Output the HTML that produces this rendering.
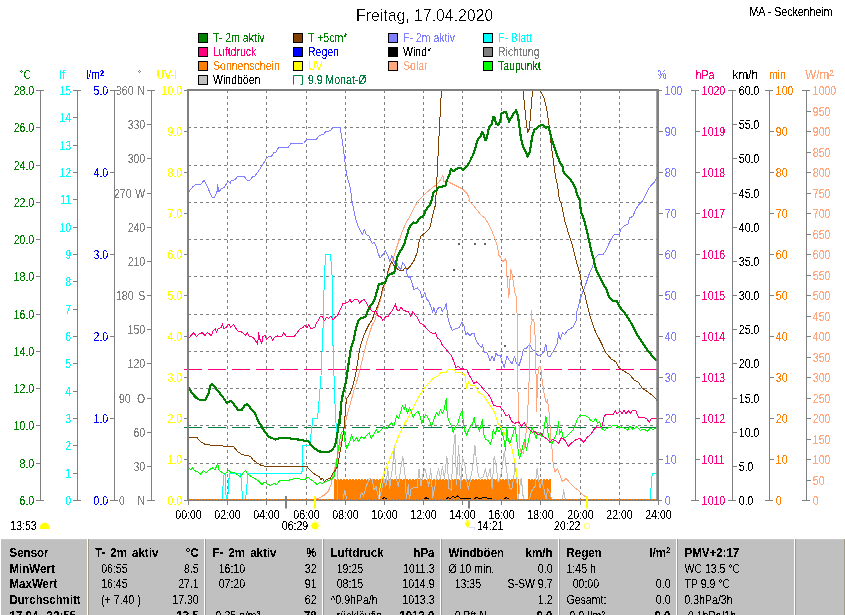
<!DOCTYPE html>
<html><head><meta charset="utf-8"><title>Wetter</title>
<style>html,body{margin:0;padding:0;background:#fff;overflow:hidden}svg{display:block;font-family:"Liberation Sans",sans-serif}</style></head>
<body>
<svg width="845" height="615" viewBox="0 0 845 615" font-family="'Liberation Sans', sans-serif" font-size="12.4" shape-rendering="auto">
<rect width="845" height="615" fill="#fff"/>
<filter id="cr" x="-5%" y="-20%" width="110%" height="140%" color-interpolation-filters="sRGB"><feComponentTransfer><feFuncA type="discrete" tableValues="0 0 0 0 0 0 0 0 0 1 1 1 1 1 1 1 1 1 1 1"/></feComponentTransfer></filter>
<filter id="cr2" x="-5%" y="-20%" width="110%" height="140%" color-interpolation-filters="sRGB"><feComponentTransfer><feFuncA type="discrete" tableValues="0 0 0 0 0 0 0 0 0 0 0 0 0 1 1 1 1 1 1 1"/></feComponentTransfer></filter>
<clipPath id="pc"><rect x="188.5" y="90.5" width="471.0" height="411.0"/></clipPath>
<line x1="227.50" y1="90.00" x2="227.50" y2="500.00" stroke="#808080" stroke-width="1" stroke-dasharray="3 3"/>
<line x1="266.50" y1="90.00" x2="266.50" y2="500.00" stroke="#808080" stroke-width="1" stroke-dasharray="3 3"/>
<line x1="306.50" y1="90.00" x2="306.50" y2="500.00" stroke="#808080" stroke-width="1" stroke-dasharray="3 3"/>
<line x1="345.50" y1="90.00" x2="345.50" y2="500.00" stroke="#808080" stroke-width="1" stroke-dasharray="3 3"/>
<line x1="384.50" y1="90.00" x2="384.50" y2="500.00" stroke="#808080" stroke-width="1" stroke-dasharray="3 3"/>
<line x1="423.50" y1="90.00" x2="423.50" y2="500.00" stroke="#808080" stroke-width="1" stroke-dasharray="3 3"/>
<line x1="462.50" y1="90.00" x2="462.50" y2="500.00" stroke="#808080" stroke-width="1" stroke-dasharray="3 3"/>
<line x1="501.50" y1="90.00" x2="501.50" y2="500.00" stroke="#808080" stroke-width="1" stroke-dasharray="3 3"/>
<line x1="540.50" y1="90.00" x2="540.50" y2="500.00" stroke="#808080" stroke-width="1" stroke-dasharray="3 3"/>
<line x1="580.50" y1="90.00" x2="580.50" y2="500.00" stroke="#808080" stroke-width="1" stroke-dasharray="3 3"/>
<line x1="619.50" y1="90.00" x2="619.50" y2="500.00" stroke="#808080" stroke-width="1" stroke-dasharray="3 3"/>
<line x1="188.00" y1="127.50" x2="658.00" y2="127.50" stroke="#808080" stroke-width="1" stroke-dasharray="3 3"/>
<line x1="188.00" y1="165.50" x2="658.00" y2="165.50" stroke="#808080" stroke-width="1" stroke-dasharray="3 3"/>
<line x1="188.00" y1="202.50" x2="658.00" y2="202.50" stroke="#808080" stroke-width="1" stroke-dasharray="3 3"/>
<line x1="188.00" y1="239.50" x2="658.00" y2="239.50" stroke="#808080" stroke-width="1" stroke-dasharray="3 3"/>
<line x1="188.00" y1="276.50" x2="658.00" y2="276.50" stroke="#808080" stroke-width="1" stroke-dasharray="3 3"/>
<line x1="188.00" y1="314.50" x2="658.00" y2="314.50" stroke="#808080" stroke-width="1" stroke-dasharray="3 3"/>
<line x1="188.00" y1="351.50" x2="658.00" y2="351.50" stroke="#808080" stroke-width="1" stroke-dasharray="3 3"/>
<line x1="188.00" y1="388.50" x2="658.00" y2="388.50" stroke="#808080" stroke-width="1" stroke-dasharray="3 3"/>
<line x1="188.00" y1="425.50" x2="658.00" y2="425.50" stroke="#808080" stroke-width="1" stroke-dasharray="3 3"/>
<line x1="188.00" y1="463.50" x2="658.00" y2="463.50" stroke="#808080" stroke-width="1" stroke-dasharray="3 3"/>
<g clip-path="url(#pc)" fill="none" stroke-linejoin="round" shape-rendering="crispEdges">
<rect x="334.0" y="480.0" width="184.5" height="20.5" fill="#ff8000"/>
<line x1="334.0" y1="479.5" x2="518.5" y2="479.5" stroke="#ff8000" stroke-width="1" stroke-dasharray="2 1"/>
<rect x="528.3" y="480.0" width="22.9" height="20.5" fill="#ff8000"/>
<line x1="528.3" y1="479.5" x2="551.2" y2="479.5" stroke="#ff8000" stroke-width="1" stroke-dasharray="2 1"/>
<line x1="188" y1="499.5" x2="659" y2="499.5" stroke="#ff8000" stroke-width="1" stroke-dasharray="2 1"/>
<path d="M184.0,369.5 h18 M208.0,369.5 h18 M232.0,369.5 h18 M256.0,369.5 h18 M280.0,369.5 h18 M304.0,369.5 h18 M328.0,369.5 h18 M352.0,369.5 h18 M376.0,369.5 h18 M400.0,369.5 h18 M424.0,369.5 h18 M448.0,369.5 h18 M472.0,369.5 h18 M496.0,369.5 h18 M520.0,369.5 h18 M544.0,369.5 h18 M568.0,369.5 h18 M592.0,369.5 h18 M616.0,369.5 h18 M640.0,369.5 h18" stroke="#ff0080" stroke-width="1" fill="none"/>
<path d="M184.0,427.5 h18 M208.0,427.5 h18 M232.0,427.5 h18 M256.0,427.5 h18 M280.0,427.5 h18 M304.0,427.5 h18 M328.0,427.5 h18 M352.0,427.5 h18 M376.0,427.5 h18 M400.0,427.5 h18 M424.0,427.5 h18 M448.0,427.5 h18 M472.0,427.5 h18 M496.0,427.5 h18 M520.0,427.5 h18 M544.0,427.5 h18 M568.0,427.5 h18 M592.0,427.5 h18 M616.0,427.5 h18 M640.0,427.5 h18" stroke="#008040" stroke-width="1" fill="none"/>
<polyline points="341.0,500.0 342.9,500.0 344.9,490.2 346.8,500.0 359.5,500.0 361.5,492.2 363.4,496.1 366.3,486.3 369.3,478.5 372.2,479.5 374.1,490.2 376.1,486.3 379.0,500.0 382.0,488.3 383.9,478.5 385.9,486.3 387.8,468.8 389.8,488.3 391.1,476.6 392.7,466.8 394.2,445.4 396.2,478.5 398.5,486.3 400.5,470.7 402.8,456.1 405.4,478.5 406.3,500.0 408.3,484.4 409.3,500.0 411.2,488.3 417.1,487.3 419.0,468.8 421.0,486.3 422.9,474.6 424.9,468.8 426.8,476.6 428.8,486.3 430.7,468.8 432.7,497.1 434.6,488.3 436.6,476.6 438.5,468.8 440.5,478.5 442.4,466.8 444.4,478.5 446.9,456.1 448.9,488.3 451.2,490.2 453.2,451.2 455.1,434.6 456.5,484.4 458.6,445.4 460.6,488.3 462.5,457.1 464.9,464.9 466.8,480.5 468.4,489.3 470.3,480.5 472.7,466.8 475.0,445.4 476.6,462.9 478.5,476.6 480.5,478.5 483.4,476.6 485.4,468.8 487.3,478.5 490.2,468.8 492.2,488.3 494.1,456.1 496.1,464.9 498.0,482.4 500.0,478.5 500.0,478.5 502.0,468.8 504.3,451.2 505.9,464.9 507.8,478.5 509.8,488.3 511.7,489.3 513.7,478.5 515.2,462.0 516.6,478.5 518.5,500.0 519.5,488.3 521.1,478.5 522.4,488.3 523.4,500.0 529.3,500.0 531.2,492.2 533.2,488.3 535.1,486.3 537.1,467.8 538.4,478.5 540.0,488.3 542.0,480.5 543.9,488.3 545.9,500.0 547.8,488.3 549.8,492.2 551.7,500.0 562.4,500.0 563.6,489.3 564.8,498.0 566.3,500.0" stroke="#c0c0c0" stroke-width="1" fill="none" />
<polyline points="188.2,192.8 190.7,189.3 192.7,186.9 195.6,184.4 201.1,184.0 203.8,180.3 206.3,184.4 209.3,191.2 212.2,197.1 214.7,197.1 217.1,191.2 217.7,184.8 219.0,192.2 221.4,188.3 223.9,187.9 226.8,183.4 228.8,181.5 230.3,183.4 231.1,180.5 234.6,179.9 237.6,176.6 244.4,176.6 247.3,180.5 250.2,180.1 252.6,176.6 255.1,176.0 258.0,171.7 262.0,165.9 264.9,161.0 267.4,157.1 271.7,156.1 273.7,152.6 276.0,152.2 278.5,147.7 288.3,147.3 291.2,143.4 303.9,143.0 306.8,139.5 316.6,139.1 319.5,135.2 323.4,134.8 326.0,131.3 330.2,130.9 332.8,127.4 340.0,127.4 340.0,127.4 342.0,138.5 344.3,156.1 346.8,175.6 350.7,189.3 351.7,200.0 353.7,209.8 356.6,222.4 359.5,229.3 362.4,234.1 364.4,229.7 366.3,234.7 369.3,236.1 372.2,243.9 374.1,242.0 376.1,245.9 378.0,252.7 380.0,258.1 382.9,254.6 385.3,250.7 387.8,255.6 389.8,261.5 391.7,255.6 393.1,258.5 394.6,263.4 396.6,261.5 398.5,267.3 400.9,269.3 402.8,262.4 405.4,266.3 407.3,275.1 408.7,278.0 409.9,276.1 412.2,283.9 414.1,289.8 417.1,287.8 420.0,290.7 422.0,297.6 424.9,292.7 426.8,299.5 428.8,301.5 430.7,306.3 432.7,312.2 433.7,307.3 435.6,314.1 437.6,308.3 440.5,307.3 442.4,311.2 444.4,308.3 446.3,303.4 447.3,312.2 448.3,320.0 449.3,322.9 452.2,330.7 455.1,328.8 459.0,327.8 462.0,322.0 463.9,325.9 465.9,334.6 467.8,332.7 469.8,335.6 471.7,333.7 474.2,333.3 475.6,339.5 478.5,344.4 481.5,347.3 482.4,344.4 484.4,352.2 487.3,353.2 490.2,361.0 492.2,356.1 494.1,361.0 496.1,353.2 498.0,356.1 500.0,355.1 502.0,361.0 504.3,367.8 506.8,356.1 509.8,361.0 512.1,363.9 514.6,356.1 516.6,363.9 519.1,365.3 521.5,358.0 523.4,349.3 526.3,348.3 529.3,344.4 532.2,349.3 535.1,351.2 538.0,356.1 541.0,355.1 543.9,351.2 545.9,344.4 547.8,356.1 550.3,356.1 552.7,352.2 555.6,347.3 557.6,342.4 558.5,332.7 560.1,339.5 562.4,332.7 564.4,334.6 567.3,330.7 570.2,328.8 573.2,326.8 576.1,321.0 576.1,313.2 578.0,308.3 580.0,299.5 582.0,293.7 585.9,283.9 588.8,275.1 592.7,266.3 594.6,258.5 598.5,254.6 603.4,254.2 606.3,249.8 608.3,244.9 611.2,239.0 614.1,234.7 619.0,234.1 621.0,229.3 624.9,225.4 627.8,224.4 629.8,217.6 632.7,216.6 635.6,209.8 638.5,204.9 642.4,201.0 645.4,195.1 648.3,189.3 651.2,185.4 654.1,182.4 657.1,177.2" stroke="#8080ff" stroke-width="1" fill="none" />
<polyline points="188.5,499.5 222.3,499.5 223.3,480.0 224.3,473.5 225.0,473.5 225.8,493.0 226.5,499.5 227.3,499.5 228.2,493.0 229.3,473.5 240.4,473.5 241.2,480.0 242.2,493.0 242.6,499.5 245.5,499.5 246.3,493.0 247.3,480.0 247.7,473.5 302.0,473.5 302.2,445.5 310.0,445.5 310.3,440.0 311.7,429.3 312.7,418.5 317.6,418.1 318.9,402.0 320.1,388.3 321.5,368.8 322.4,339.5 323.4,320.0 323.8,295.6 324.8,267.3 325.8,254.6 330.2,254.6 331.2,262.4 332.2,278.0 332.8,320.0 332.8,339.5 333.8,368.8 334.7,398.0 335.7,417.6 336.7,433.2 337.3,440.0 338.0,499.5 650.0,499.5 651.2,486.0 652.2,473.5 658.0,473.5" stroke="#00ffff" stroke-width="1" fill="none" />
<polyline points="188.2,500.0 314.6,500.0 316.6,499.0 320.5,497.1 324.4,495.1 328.3,491.2 331.2,484.4 333.2,474.6 334.6,469.3 336.1,462.0 339.0,450.3 342.0,438.6 344.2,428.3 347.1,415.1 350.0,404.9 354.4,388.8 357.8,378.0 360.5,366.8 363.4,355.1 366.3,343.4 369.3,333.7 372.2,324.9 375.1,320.0 377.1,311.2 380.0,301.5 383.9,287.8 387.8,274.1 390.7,264.4 393.7,256.6 396.6,247.8 399.5,239.0 402.4,231.2 406.3,222.4 410.2,215.6 414.1,207.8 418.0,201.0 419.0,200.0 425.9,193.2 431.7,188.3 436.6,184.4 439.5,181.5 443.0,175.6 443.4,181.5 446.3,180.5 449.3,182.4 457.1,186.3 462.9,189.3 466.8,193.2 468.8,197.1 469.8,200.0 467.8,200.0 474.6,206.8 480.5,214.6 485.4,218.5 490.2,227.3 494.1,236.1 497.1,244.9 499.0,255.6 500.0,256.6 502.9,261.5 505.9,258.5 506.8,274.1 508.8,297.6 510.7,269.3 512.7,277.1 514.6,291.7 516.6,297.6 517.2,320.0 517.6,378.5 518.5,407.8 519.5,440.0 519.5,445.4 520.5,451.2 523.4,453.2 525.4,439.5 527.3,420.0 527.3,417.6 528.9,388.3 529.7,349.3 530.8,325.9 532.2,320.0 531.2,319.0 531.2,310.2 531.8,310.2 531.8,319.0 533.6,320.0 534.7,325.9 535.5,349.3 536.1,378.5 536.7,411.7 537.5,378.5 539.0,366.8 540.6,366.4 542.0,378.5 543.3,388.3 544.9,398.0 546.4,402.9 547.4,400.0 548.8,409.8 549.8,421.5 550.7,440.0 550.3,431.7 551.7,445.4 553.1,462.9 554.6,471.7 557.6,468.8 560.5,476.6 562.4,481.5 566.3,478.5 570.2,483.4 574.1,487.3 578.0,490.2 582.0,494.1 585.9,497.1 587.4,500.0 660.0,500.0" stroke="#ffa880" stroke-width="1" fill="none" />
<polyline points="379.0,500.0 380.0,488.3 382.0,478.5 385.9,468.8 389.8,459.0 393.7,449.3 397.6,438.5 400.5,431.7 403.4,425.9 406.3,420.0 406.3,421.5 410.2,413.7 414.1,405.9 418.0,398.0 422.0,392.2 425.9,386.3 429.8,382.4 433.7,377.6 437.6,376.6 440.5,372.7 446.3,372.3 448.3,369.4 454.1,369.4 456.1,372.7 462.9,373.1 464.9,375.6 466.8,388.3 468.8,381.5 470.7,385.4 474.6,385.4 476.6,388.3 479.5,393.2 483.4,395.1 486.3,400.0 490.2,405.9 494.1,411.7 496.1,417.6 498.0,423.4 500.0,426.3 502.9,429.8 505.9,436.6 508.8,441.5 511.7,447.3 513.7,457.1 515.6,464.9 517.2,478.5 518.0,500.0" stroke="#ffff00" stroke-width="1" fill="none" />
<polyline points="188.2,466.8 190.7,469.8 192.7,467.8 194.6,470.7 197.6,471.7 200.5,474.2 203.4,470.7 206.3,472.7 209.3,469.8 212.2,467.8 215.1,469.8 217.7,463.3 219.0,469.8 221.0,471.7 223.9,473.7 226.8,472.7 228.8,470.3 230.7,472.3 235.6,473.1 238.5,475.6 240.5,476.6 243.4,472.7 245.4,470.3 248.3,474.6 253.2,477.6 258.0,480.5 262.0,484.4 264.9,482.0 267.8,484.4 270.7,485.4 273.7,483.4 276.6,484.4 279.5,480.9 283.4,480.5 289.3,480.1 293.2,478.9 299.0,478.9 304.9,479.5 307.8,477.0 310.7,479.5 314.6,482.4 317.6,484.8 319.5,482.4 322.4,483.4 325.4,481.5 328.3,480.5 331.2,479.5 334.1,476.6 336.1,466.8 338.0,451.2 339.6,441.5 341.0,433.7 342.3,431.7 343.9,429.8 344.9,441.5 346.8,448.3 349.8,441.5 351.7,434.6 353.7,441.5 356.6,437.6 358.5,441.5 361.5,436.6 364.4,438.5 367.3,434.6 369.3,432.7 371.2,438.5 374.1,433.7 376.1,429.8 378.0,432.7 381.0,429.8 383.9,426.8 386.8,428.8 389.8,424.9 391.7,422.9 393.7,425.9 395.6,420.0 396.6,415.6 398.5,418.5 400.5,412.7 402.4,405.9 404.4,409.8 405.4,404.9 407.3,413.7 409.3,407.8 411.2,411.7 413.2,417.6 415.1,413.7 418.0,411.3 420.0,415.6 422.0,423.4 423.9,417.6 425.9,414.6 427.8,417.6 429.8,421.5 431.7,426.3 433.7,419.5 436.6,412.7 438.5,415.6 440.5,409.8 442.4,413.7 444.4,408.8 446.3,398.0 447.3,415.6 449.3,421.5 451.2,425.4 453.2,432.2 455.1,427.3 458.0,423.4 460.0,415.6 462.0,410.7 463.3,421.5 464.9,431.2 466.8,435.1 468.8,429.3 470.7,426.3 472.7,423.4 474.2,417.6 475.6,426.3 477.6,427.3 479.5,431.2 480.9,425.4 482.4,419.5 483.4,433.2 485.4,439.0 488.3,440.5 490.2,444.4 492.2,438.5 493.2,429.8 495.1,434.6 497.1,427.8 499.0,431.7 500.0,429.8 500.0,427.8 502.0,431.7 503.9,439.5 505.5,450.2 506.8,427.8 508.2,439.5 509.8,443.4 511.7,437.6 513.7,431.7 515.2,425.9 516.6,439.5 518.0,449.3 519.5,459.0 521.1,453.2 523.0,445.4 525.0,439.5 526.3,450.2 528.3,441.5 530.2,432.7 532.2,427.8 534.1,432.7 536.1,438.5 538.0,431.7 540.0,434.6 542.0,436.6 543.9,429.8 545.9,416.1 546.8,420.0 547.8,431.7 549.8,441.5 552.3,443.4 554.6,437.6 556.6,433.7 558.5,422.0 559.5,434.6 561.5,429.8 563.4,438.5 566.3,436.6 569.3,433.7 573.2,429.8 575.1,425.9 577.1,420.0 577.1,419.5 580.0,415.6 583.9,415.2 587.8,416.6 590.7,420.5 593.7,421.5 595.6,418.5 597.6,423.4 599.5,421.5 601.5,428.3 604.4,430.2 607.3,428.3 610.2,427.3 613.2,425.4 616.1,425.0 619.0,427.3 622.0,426.9 624.9,428.3 627.8,430.2 629.8,426.3 632.7,429.3 636.6,426.9 640.5,430.2 644.4,429.3 647.3,431.2 650.2,428.3 653.2,429.7 657.1,427.3" stroke="#00ff00" stroke-width="1" fill="none" />
<polyline points="188.2,339.5 190.7,335.6 193.7,332.7 196.6,336.6 199.5,333.7 202.4,332.7 205.0,335.6 207.3,332.7 209.3,333.7 211.2,336.0 213.2,330.7 215.1,328.8 216.7,332.1 218.0,328.8 221.0,327.8 222.5,323.9 223.9,328.8 226.8,326.8 228.8,324.3 230.7,327.4 233.7,324.3 235.6,327.8 238.5,331.7 242.4,332.1 245.4,335.6 247.3,332.7 249.3,336.6 253.2,337.2 256.1,341.5 257.7,344.4 258.6,332.7 260.0,339.5 261.6,343.8 262.9,336.6 264.9,335.2 266.8,339.5 268.8,337.2 270.7,336.0 272.7,340.5 274.6,337.2 277.6,336.0 281.5,336.6 283.8,332.7 286.3,336.6 294.1,336.6 297.1,332.7 300.0,328.8 302.9,327.8 304.9,324.9 306.8,327.8 308.8,324.9 310.7,328.2 314.6,327.8 316.6,322.9 318.5,320.0 320.0,317.1 322.2,316.3 324.4,320.7 326.6,317.1 328.8,318.5 331.0,316.3 333.2,320.0 335.4,317.1 337.6,315.6 339.0,312.0 341.2,307.6 342.7,303.9 345.6,303.2 348.5,301.7 350.0,299.5 351.5,302.4 354.4,299.5 358.1,300.0 359.5,303.2 361.7,300.5 363.9,299.5 366.1,302.4 367.6,305.4 369.8,307.6 371.2,310.5 374.1,312.0 376.3,311.7 377.8,315.6 380.7,317.1 382.9,320.4 385.1,317.1 388.1,316.3 390.2,313.4 392.4,310.5 393.9,307.3 395.4,303.9 396.8,309.8 399.0,310.5 401.2,307.3 403.4,310.5 406.3,311.2 408.5,312.0 410.7,316.3 412.9,311.7 415.1,314.9 417.3,317.1 420.2,323.7 420.0,322.9 423.9,324.9 426.8,328.8 429.8,331.7 432.7,333.7 435.6,332.7 437.2,337.6 440.5,340.5 442.4,345.4 445.4,348.3 448.3,352.2 451.2,355.1 454.1,362.0 456.1,367.8 458.0,365.9 460.6,368.8 466.8,369.2 468.8,374.6 470.7,377.6 473.7,383.4 476.6,382.0 479.5,384.4 483.4,389.3 487.3,393.2 490.2,397.1 492.2,402.0 494.1,405.9 500.0,406.2 500.0,406.8 502.9,409.8 505.9,415.6 508.8,414.6 511.7,421.5 514.6,423.4 518.5,421.9 521.5,426.3 524.4,422.4 526.3,426.3 529.3,429.3 532.2,432.2 535.1,431.2 538.0,435.1 541.0,433.2 543.9,437.1 547.8,439.4 549.8,442.4 552.7,439.5 555.6,440.5 558.5,443.4 561.5,437.6 564.4,439.5 568.3,446.3 572.2,442.4 576.1,439.5 580.0,438.5 583.9,442.4 586.8,437.6 590.7,434.6 593.7,429.8 596.6,426.8 599.5,427.8 602.4,425.9 603.4,420.0 604.4,415.6 606.3,414.6 613.2,414.2 615.1,410.7 617.1,414.0 620.0,410.7 622.0,413.7 623.9,410.1 625.9,413.7 628.8,410.7 630.7,413.7 632.7,410.1 635.6,410.1 638.5,417.6 646.3,418.1 649.3,422.4 651.2,418.5 657.1,418.5" stroke="#ff0080" stroke-width="1" fill="none" />
<polyline points="188.2,437.6 197.2,437.6 198.5,439.5 201.5,442.4 205.4,444.4 215.1,445.8 233.7,446.3 235.6,449.3 238.5,452.2 241.5,454.1 245.4,455.5 250.2,456.1 253.2,460.0 257.1,462.9 261.0,465.3 265.9,466.4 306.8,466.4 308.8,468.8 312.7,472.7 316.6,475.6 319.5,476.6 320.9,479.5 322.4,478.1 324.4,481.5 326.3,479.5 330.2,478.5 333.2,472.7 335.5,470.0 337.6,466.4 339.8,453.2 342.0,441.5 344.2,426.9 345.2,413.7 346.4,399.0 349.8,394.1 352.7,386.3 355.6,374.6 357.6,362.9 359.5,349.3 362.4,339.5 365.4,331.7 369.3,323.9 372.2,320.0 374.1,314.1 378.0,305.4 381.0,295.6 382.9,287.8 385.9,281.0 387.8,272.2 389.8,265.4 391.7,261.5 393.7,265.4 396.6,268.3 399.5,270.6 403.4,270.2 405.4,267.3 407.3,269.3 410.2,266.3 414.1,260.5 417.1,252.7 419.0,242.0 421.0,236.1 425.9,232.2 429.8,228.3 431.7,219.5 433.7,210.7 435.2,205.9 435.6,200.0 436.0,195.1 437.0,177.6 438.1,154.1 439.5,126.8 440.7,103.4 441.7,87.8 442.0,72.2" stroke="#804000" stroke-width="1" fill="none" />
<polyline points="522.4,72.2 523.0,89.8 524.4,103.4 526.3,122.9 527.7,132.3 529.3,128.8 530.2,119.0 531.6,101.5 532.8,89.8 533.2,72.2" stroke="#804000" stroke-width="1" fill="none" />
<polyline points="537.1,72.2 540.0,89.8 543.9,97.6 546.8,109.3 548.8,122.9 550.3,136.6 551.7,148.3 553.7,163.9 555.6,177.6 557.6,185.4 558.5,193.2 559.5,200.0 561.5,203.9 564.4,219.5 567.3,229.3 570.2,239.0 572.6,245.9 575.1,256.6 578.0,267.3 580.0,274.1 582.0,285.9 584.9,294.6 586.8,303.4 589.8,315.1 591.3,320.0 594.6,329.8 598.5,337.6 602.4,345.4 606.3,353.2 611.2,359.0 616.1,362.0 619.0,367.8 624.9,371.7 629.8,374.6 634.6,380.5 638.5,382.4 642.4,388.3 648.3,392.2 653.2,396.1 657.1,400.4" stroke="#804000" stroke-width="1" fill="none" />
<polyline points="382.0,500.0 383.9,497.1 386.8,499.0 393.7,499.4" stroke="#000000" stroke-width="1" fill="none" />
<polyline points="422.9,500.0 425.9,497.7 428.8,499.0 433.7,499.2" stroke="#000000" stroke-width="1" fill="none" />
<polyline points="446.3,499.0 448.3,497.1 450.2,499.0 453.2,496.1 455.1,498.0 457.1,495.7 460.0,498.0 464.9,498.4 470.7,499.0" stroke="#000000" stroke-width="1" fill="none" />
<polyline points="474.6,499.0 476.6,497.1 479.5,499.0 484.4,497.1 488.3,498.6 496.1,499.6" stroke="#000000" stroke-width="1" fill="none" />
<polyline points="503.9,500.0 505.9,497.1 508.8,499.0 515.6,499.2" stroke="#000000" stroke-width="1" fill="none" />
<rect x="458.0" y="242.9" width="2" height="2" fill="#606060"/>
<rect x="473.6" y="242.9" width="2" height="2" fill="#606060"/>
<rect x="483.8" y="242.9" width="2" height="2" fill="#606060"/>
<rect x="453.1" y="268.7" width="2" height="2" fill="#606060"/>
<rect x="382.9" y="268.7" width="2" height="2" fill="#606060"/>
<rect x="503.9" y="344.8" width="2" height="2" fill="#606060"/>
<polyline points="188.2,387.3 190.7,391.2 194.6,396.1 197.6,399.0 201.5,400.4 205.4,400.0 208.3,394.1 210.2,386.3 212.2,384.0 215.1,387.3 219.0,392.2 222.9,397.1 226.8,402.9 230.3,401.0 233.1,402.9 235.6,406.8 238.5,410.3 241.5,410.1 244.4,405.9 247.3,403.9 250.2,407.8 255.1,413.7 258.0,420.5 262.0,427.3 265.9,433.2 268.8,436.7 271.7,438.0 275.6,439.5 279.5,438.1 289.3,438.1 293.2,439.1 302.0,439.9 304.9,441.1 308.8,441.5 310.7,444.4 314.6,448.3 318.5,451.2 323.4,452.2 328.3,452.2 332.2,450.2 335.1,445.4 337.1,435.6 338.4,425.9 339.0,420.0 340.0,423.4 341.0,403.9 342.9,394.1 345.9,382.4 347.8,368.8 350.7,349.3 353.7,339.5 355.6,329.8 358.5,320.0 361.5,318.0 365.4,317.1 367.3,312.2 370.2,306.3 373.2,302.4 375.1,297.6 377.1,290.7 379.0,283.9 382.0,283.5 384.9,282.9 386.8,278.0 389.8,273.8 394.2,273.2 395.6,266.3 397.0,257.6 399.5,252.7 402.4,247.8 404.4,243.9 406.3,237.1 409.3,227.3 413.2,222.4 416.1,223.4 420.0,217.6 423.9,215.6 425.9,209.8 429.8,204.9 431.7,200.0 433.7,192.2 436.6,190.2 438.5,187.3 441.5,186.9 445.4,185.4 447.3,179.5 449.5,174.3 451.0,169.2 453.9,171.3 456.1,169.2 458.3,167.7 461.2,168.1 463.4,169.9 465.6,167.7 468.5,164.0 470.7,159.6 472.9,155.2 475.1,149.4 476.6,143.5 478.1,139.1 480.2,137.0 482.1,131.8 483.9,135.5 485.4,140.3 487.1,137.0 488.3,130.4 489.8,126.0 492.0,124.2 493.0,116.9 494.9,117.9 496.1,124.2 498.5,124.8 500.3,120.9 501.5,113.5 503.7,112.1 506.1,112.1 507.3,116.5 509.1,121.6 511.0,117.9 513.2,114.3 516.1,110.2 517.6,114.3 519.0,123.1 520.2,133.3 522.0,143.5 524.2,149.4 526.3,153.1 527.4,156.7 529.3,153.8 530.7,146.5 532.2,136.2 534.4,129.6 536.6,128.2 539.5,126.0 542.4,124.8 544.6,126.7 545.7,128.2 548.0,126.7 549.5,130.4 551.2,137.7 554.2,146.5 557.1,155.2 560.0,162.6 562.4,165.9 563.4,171.7 568.3,177.6 571.2,180.5 575.1,187.3 577.1,194.1 579.6,200.0 581.0,211.7 583.9,219.5 585.9,227.3 587.8,235.1 589.8,243.9 591.7,252.7 593.7,259.5 595.2,266.3 597.6,273.2 601.5,280.0 604.4,285.9 606.9,289.8 608.3,295.6 612.2,300.5 616.7,301.1 620.0,307.3 624.9,313.2 628.8,319.0 632.7,325.9 636.6,333.7 640.5,339.5 644.4,345.4 648.3,351.2 652.2,356.1 657.1,360.6" stroke="#008000" stroke-width="2.2" fill="none" stroke-linejoin="round"/>
</g>
<path d="M184,427.5 h4" stroke="#008040" stroke-width="1" fill="none"/>
<path d="M184,369.5 h4" stroke="#ff0080" stroke-width="1" fill="none"/>
<rect x="187" y="89" width="2" height="412" fill="#808080"/>
<rect x="187" y="89" width="472" height="2" fill="#808080"/>
<rect x="656.3" y="89" width="2.7" height="412" fill="#808080"/>
<rect x="187" y="500" width="472" height="1" fill="#808080"/>
<rect x="187" y="499" width="472" height="1" fill="#808080"/>
<line x1="189" y1="499.5" x2="656" y2="499.5" stroke="#ff8000" stroke-width="1" stroke-dasharray="2 1"/>
<line x1="188.50" y1="501.00" x2="188.50" y2="505.00" stroke="#808080" stroke-width="1" />
<text transform="translate(188.50,518.70) scale(0.85,1)" fill="#000" text-anchor="middle" font-size="12.4" font-weight="normal" filter="url(#cr)" >00:00</text>
<line x1="227.50" y1="501.00" x2="227.50" y2="505.00" stroke="#808080" stroke-width="1" />
<text transform="translate(227.50,518.70) scale(0.85,1)" fill="#000" text-anchor="middle" font-size="12.4" font-weight="normal" filter="url(#cr)" >02:00</text>
<line x1="266.50" y1="501.00" x2="266.50" y2="505.00" stroke="#808080" stroke-width="1" />
<text transform="translate(266.50,518.70) scale(0.85,1)" fill="#000" text-anchor="middle" font-size="12.4" font-weight="normal" filter="url(#cr)" >04:00</text>
<line x1="306.50" y1="501.00" x2="306.50" y2="505.00" stroke="#808080" stroke-width="1" />
<text transform="translate(306.50,518.70) scale(0.85,1)" fill="#000" text-anchor="middle" font-size="12.4" font-weight="normal" filter="url(#cr)" >06:00</text>
<line x1="345.50" y1="501.00" x2="345.50" y2="505.00" stroke="#808080" stroke-width="1" />
<text transform="translate(345.50,518.70) scale(0.85,1)" fill="#000" text-anchor="middle" font-size="12.4" font-weight="normal" filter="url(#cr)" >08:00</text>
<line x1="384.50" y1="501.00" x2="384.50" y2="505.00" stroke="#808080" stroke-width="1" />
<text transform="translate(384.50,518.70) scale(0.85,1)" fill="#000" text-anchor="middle" font-size="12.4" font-weight="normal" filter="url(#cr)" >10:00</text>
<line x1="423.50" y1="501.00" x2="423.50" y2="505.00" stroke="#808080" stroke-width="1" />
<text transform="translate(423.50,518.70) scale(0.85,1)" fill="#000" text-anchor="middle" font-size="12.4" font-weight="normal" filter="url(#cr)" >12:00</text>
<line x1="462.50" y1="501.00" x2="462.50" y2="505.00" stroke="#808080" stroke-width="1" />
<text transform="translate(462.50,518.70) scale(0.85,1)" fill="#000" text-anchor="middle" font-size="12.4" font-weight="normal" filter="url(#cr)" >14:00</text>
<line x1="501.50" y1="501.00" x2="501.50" y2="505.00" stroke="#808080" stroke-width="1" />
<text transform="translate(501.50,518.70) scale(0.85,1)" fill="#000" text-anchor="middle" font-size="12.4" font-weight="normal" filter="url(#cr)" >16:00</text>
<line x1="540.50" y1="501.00" x2="540.50" y2="505.00" stroke="#808080" stroke-width="1" />
<text transform="translate(540.50,518.70) scale(0.85,1)" fill="#000" text-anchor="middle" font-size="12.4" font-weight="normal" filter="url(#cr)" >18:00</text>
<line x1="580.50" y1="501.00" x2="580.50" y2="505.00" stroke="#808080" stroke-width="1" />
<text transform="translate(580.50,518.70) scale(0.85,1)" fill="#000" text-anchor="middle" font-size="12.4" font-weight="normal" filter="url(#cr)" >20:00</text>
<line x1="619.50" y1="501.00" x2="619.50" y2="505.00" stroke="#808080" stroke-width="1" />
<text transform="translate(619.50,518.70) scale(0.85,1)" fill="#000" text-anchor="middle" font-size="12.4" font-weight="normal" filter="url(#cr)" >22:00</text>
<line x1="658.50" y1="501.00" x2="658.50" y2="505.00" stroke="#808080" stroke-width="1" />
<text transform="translate(658.50,518.70) scale(0.85,1)" fill="#000" text-anchor="middle" font-size="12.4" font-weight="normal" filter="url(#cr)" >24:00</text>
<line x1="40.50" y1="90.50" x2="40.50" y2="501.00" stroke="#808080" stroke-width="1" />
<line x1="36.00" y1="90.50" x2="44.00" y2="90.50" stroke="#808080" stroke-width="1" />
<text transform="translate(34.20,94.90) scale(0.85,1)" fill="#008000" text-anchor="end" font-size="12.4" font-weight="normal" filter="url(#cr)" >28.0</text>
<line x1="36.00" y1="127.50" x2="40.50" y2="127.50" stroke="#808080" stroke-width="1" />
<text transform="translate(34.20,131.90) scale(0.85,1)" fill="#008000" text-anchor="end" font-size="12.4" font-weight="normal" filter="url(#cr)" >26.0</text>
<line x1="36.00" y1="165.50" x2="40.50" y2="165.50" stroke="#808080" stroke-width="1" />
<text transform="translate(34.20,169.90) scale(0.85,1)" fill="#008000" text-anchor="end" font-size="12.4" font-weight="normal" filter="url(#cr)" >24.0</text>
<line x1="36.00" y1="202.50" x2="40.50" y2="202.50" stroke="#808080" stroke-width="1" />
<text transform="translate(34.20,206.90) scale(0.85,1)" fill="#008000" text-anchor="end" font-size="12.4" font-weight="normal" filter="url(#cr)" >22.0</text>
<line x1="36.00" y1="239.50" x2="40.50" y2="239.50" stroke="#808080" stroke-width="1" />
<text transform="translate(34.20,243.90) scale(0.85,1)" fill="#008000" text-anchor="end" font-size="12.4" font-weight="normal" filter="url(#cr)" >20.0</text>
<line x1="36.00" y1="276.50" x2="40.50" y2="276.50" stroke="#808080" stroke-width="1" />
<text transform="translate(34.20,280.90) scale(0.85,1)" fill="#008000" text-anchor="end" font-size="12.4" font-weight="normal" filter="url(#cr)" >18.0</text>
<line x1="36.00" y1="314.50" x2="40.50" y2="314.50" stroke="#808080" stroke-width="1" />
<text transform="translate(34.20,318.90) scale(0.85,1)" fill="#008000" text-anchor="end" font-size="12.4" font-weight="normal" filter="url(#cr)" >16.0</text>
<line x1="36.00" y1="351.50" x2="40.50" y2="351.50" stroke="#808080" stroke-width="1" />
<text transform="translate(34.20,355.90) scale(0.85,1)" fill="#008000" text-anchor="end" font-size="12.4" font-weight="normal" filter="url(#cr)" >14.0</text>
<line x1="36.00" y1="388.50" x2="40.50" y2="388.50" stroke="#808080" stroke-width="1" />
<text transform="translate(34.20,392.90) scale(0.85,1)" fill="#008000" text-anchor="end" font-size="12.4" font-weight="normal" filter="url(#cr)" >12.0</text>
<line x1="36.00" y1="425.50" x2="40.50" y2="425.50" stroke="#808080" stroke-width="1" />
<text transform="translate(34.20,429.90) scale(0.85,1)" fill="#008000" text-anchor="end" font-size="12.4" font-weight="normal" filter="url(#cr)" >10.0</text>
<line x1="36.00" y1="463.50" x2="40.50" y2="463.50" stroke="#808080" stroke-width="1" />
<text transform="translate(34.20,467.90) scale(0.85,1)" fill="#008000" text-anchor="end" font-size="12.4" font-weight="normal" filter="url(#cr)" >8.0</text>
<line x1="36.00" y1="500.50" x2="44.00" y2="500.50" stroke="#808080" stroke-width="1" />
<text transform="translate(34.20,504.90) scale(0.85,1)" fill="#008000" text-anchor="end" font-size="12.4" font-weight="normal" filter="url(#cr)" >6.0</text>
<path d="M21,70h1v1h-1z M20,71h1v1h-1z M22,71h1v1h-1z M21,72h1v1h-1z" fill="#008000"/>
<text transform="translate(23.60,79.20) scale(0.85,1)" fill="#008000" text-anchor="start" font-size="12.4" font-weight="normal" filter="url(#cr)" >C</text>
<line x1="77.50" y1="90.50" x2="77.50" y2="501.00" stroke="#808080" stroke-width="1" />
<line x1="73.00" y1="90.50" x2="81.00" y2="90.50" stroke="#808080" stroke-width="1" />
<text transform="translate(71.20,94.90) scale(0.85,1)" fill="#00ffff" text-anchor="end" font-size="12.4" font-weight="normal" filter="url(#cr)" >15</text>
<line x1="73.00" y1="117.50" x2="77.50" y2="117.50" stroke="#808080" stroke-width="1" />
<text transform="translate(71.20,121.90) scale(0.85,1)" fill="#00ffff" text-anchor="end" font-size="12.4" font-weight="normal" filter="url(#cr)" >14</text>
<line x1="73.00" y1="145.50" x2="77.50" y2="145.50" stroke="#808080" stroke-width="1" />
<text transform="translate(71.20,149.90) scale(0.85,1)" fill="#00ffff" text-anchor="end" font-size="12.4" font-weight="normal" filter="url(#cr)" >13</text>
<line x1="73.00" y1="172.50" x2="77.50" y2="172.50" stroke="#808080" stroke-width="1" />
<text transform="translate(71.20,176.90) scale(0.85,1)" fill="#00ffff" text-anchor="end" font-size="12.4" font-weight="normal" filter="url(#cr)" >12</text>
<line x1="73.00" y1="199.50" x2="77.50" y2="199.50" stroke="#808080" stroke-width="1" />
<text transform="translate(71.20,203.90) scale(0.85,1)" fill="#00ffff" text-anchor="end" font-size="12.4" font-weight="normal" filter="url(#cr)" >11</text>
<line x1="73.00" y1="227.50" x2="77.50" y2="227.50" stroke="#808080" stroke-width="1" />
<text transform="translate(71.20,231.90) scale(0.85,1)" fill="#00ffff" text-anchor="end" font-size="12.4" font-weight="normal" filter="url(#cr)" >10</text>
<line x1="73.00" y1="254.50" x2="77.50" y2="254.50" stroke="#808080" stroke-width="1" />
<text transform="translate(71.20,258.90) scale(0.85,1)" fill="#00ffff" text-anchor="end" font-size="12.4" font-weight="normal" filter="url(#cr)" >9</text>
<line x1="73.00" y1="281.50" x2="77.50" y2="281.50" stroke="#808080" stroke-width="1" />
<text transform="translate(71.20,285.90) scale(0.85,1)" fill="#00ffff" text-anchor="end" font-size="12.4" font-weight="normal" filter="url(#cr)" >8</text>
<line x1="73.00" y1="309.50" x2="77.50" y2="309.50" stroke="#808080" stroke-width="1" />
<text transform="translate(71.20,313.90) scale(0.85,1)" fill="#00ffff" text-anchor="end" font-size="12.4" font-weight="normal" filter="url(#cr)" >7</text>
<line x1="73.00" y1="336.50" x2="77.50" y2="336.50" stroke="#808080" stroke-width="1" />
<text transform="translate(71.20,340.90) scale(0.85,1)" fill="#00ffff" text-anchor="end" font-size="12.4" font-weight="normal" filter="url(#cr)" >6</text>
<line x1="73.00" y1="363.50" x2="77.50" y2="363.50" stroke="#808080" stroke-width="1" />
<text transform="translate(71.20,367.90) scale(0.85,1)" fill="#00ffff" text-anchor="end" font-size="12.4" font-weight="normal" filter="url(#cr)" >5</text>
<line x1="73.00" y1="391.50" x2="77.50" y2="391.50" stroke="#808080" stroke-width="1" />
<text transform="translate(71.20,395.90) scale(0.85,1)" fill="#00ffff" text-anchor="end" font-size="12.4" font-weight="normal" filter="url(#cr)" >4</text>
<line x1="73.00" y1="418.50" x2="77.50" y2="418.50" stroke="#808080" stroke-width="1" />
<text transform="translate(71.20,422.90) scale(0.85,1)" fill="#00ffff" text-anchor="end" font-size="12.4" font-weight="normal" filter="url(#cr)" >3</text>
<line x1="73.00" y1="445.50" x2="77.50" y2="445.50" stroke="#808080" stroke-width="1" />
<text transform="translate(71.20,449.90) scale(0.85,1)" fill="#00ffff" text-anchor="end" font-size="12.4" font-weight="normal" filter="url(#cr)" >2</text>
<line x1="73.00" y1="473.50" x2="77.50" y2="473.50" stroke="#808080" stroke-width="1" />
<text transform="translate(71.20,477.90) scale(0.85,1)" fill="#00ffff" text-anchor="end" font-size="12.4" font-weight="normal" filter="url(#cr)" >1</text>
<line x1="73.00" y1="500.50" x2="81.00" y2="500.50" stroke="#808080" stroke-width="1" />
<text transform="translate(71.20,504.90) scale(0.85,1)" fill="#00ffff" text-anchor="end" font-size="12.4" font-weight="normal" filter="url(#cr)" >0</text>
<text transform="translate(62.50,79.20) scale(0.85,1)" fill="#00ffff" text-anchor="middle" font-size="12.4" font-weight="normal" filter="url(#cr)" >lf</text>
<line x1="114.50" y1="90.50" x2="114.50" y2="501.00" stroke="#808080" stroke-width="1" />
<line x1="110.00" y1="90.50" x2="118.00" y2="90.50" stroke="#808080" stroke-width="1" />
<text transform="translate(108.20,94.90) scale(0.85,1)" fill="#0000ff" text-anchor="end" font-size="12.4" font-weight="normal" filter="url(#cr)" >5.0</text>
<line x1="110.00" y1="172.50" x2="114.50" y2="172.50" stroke="#808080" stroke-width="1" />
<text transform="translate(108.20,176.90) scale(0.85,1)" fill="#0000ff" text-anchor="end" font-size="12.4" font-weight="normal" filter="url(#cr)" >4.0</text>
<line x1="110.00" y1="254.50" x2="114.50" y2="254.50" stroke="#808080" stroke-width="1" />
<text transform="translate(108.20,258.90) scale(0.85,1)" fill="#0000ff" text-anchor="end" font-size="12.4" font-weight="normal" filter="url(#cr)" >3.0</text>
<line x1="110.00" y1="336.50" x2="114.50" y2="336.50" stroke="#808080" stroke-width="1" />
<text transform="translate(108.20,340.90) scale(0.85,1)" fill="#0000ff" text-anchor="end" font-size="12.4" font-weight="normal" filter="url(#cr)" >2.0</text>
<line x1="110.00" y1="418.50" x2="114.50" y2="418.50" stroke="#808080" stroke-width="1" />
<text transform="translate(108.20,422.90) scale(0.85,1)" fill="#0000ff" text-anchor="end" font-size="12.4" font-weight="normal" filter="url(#cr)" >1.0</text>
<line x1="110.00" y1="500.50" x2="118.00" y2="500.50" stroke="#808080" stroke-width="1" />
<text transform="translate(108.20,504.90) scale(0.85,1)" fill="#0000ff" text-anchor="end" font-size="12.4" font-weight="normal" filter="url(#cr)" >0.0</text>
<text transform="translate(95.00,79.20) scale(0.85,1)" fill="#0000ff" text-anchor="middle" font-size="12.4" font-weight="normal" filter="url(#cr)" >l/m<tspan dy="-3.4" font-size="8.6" font-weight="bold">2</tspan></text>
<line x1="151.50" y1="90.50" x2="151.50" y2="501.00" stroke="#808080" stroke-width="1" />
<line x1="147.00" y1="90.50" x2="155.00" y2="90.50" stroke="#808080" stroke-width="1" />
<text transform="translate(145.20,94.90) scale(0.85,1)" fill="#808080" text-anchor="end" font-size="12.4" font-weight="normal" filter="url(#cr)" >N</text>
<text transform="translate(116.00,94.90) scale(0.85,1)" fill="#808080" text-anchor="start" font-size="12.4" font-weight="normal" filter="url(#cr)" >360</text>
<line x1="147.00" y1="124.50" x2="151.50" y2="124.50" stroke="#808080" stroke-width="1" />
<text transform="translate(145.20,128.90) scale(0.85,1)" fill="#808080" text-anchor="end" font-size="12.4" font-weight="normal" filter="url(#cr)" >330</text>
<line x1="147.00" y1="158.50" x2="151.50" y2="158.50" stroke="#808080" stroke-width="1" />
<text transform="translate(145.20,162.90) scale(0.85,1)" fill="#808080" text-anchor="end" font-size="12.4" font-weight="normal" filter="url(#cr)" >300</text>
<line x1="147.00" y1="193.50" x2="151.50" y2="193.50" stroke="#808080" stroke-width="1" />
<text transform="translate(145.20,197.90) scale(0.85,1)" fill="#808080" text-anchor="end" font-size="12.4" font-weight="normal" filter="url(#cr)" >W</text>
<text transform="translate(114.00,197.90) scale(0.85,1)" fill="#808080" text-anchor="start" font-size="12.4" font-weight="normal" filter="url(#cr)" >270</text>
<line x1="147.00" y1="227.50" x2="151.50" y2="227.50" stroke="#808080" stroke-width="1" />
<text transform="translate(145.20,231.90) scale(0.85,1)" fill="#808080" text-anchor="end" font-size="12.4" font-weight="normal" filter="url(#cr)" >240</text>
<line x1="147.00" y1="261.50" x2="151.50" y2="261.50" stroke="#808080" stroke-width="1" />
<text transform="translate(145.20,265.90) scale(0.85,1)" fill="#808080" text-anchor="end" font-size="12.4" font-weight="normal" filter="url(#cr)" >210</text>
<line x1="147.00" y1="295.50" x2="151.50" y2="295.50" stroke="#808080" stroke-width="1" />
<text transform="translate(145.20,299.90) scale(0.85,1)" fill="#808080" text-anchor="end" font-size="12.4" font-weight="normal" filter="url(#cr)" >S</text>
<text transform="translate(116.00,299.90) scale(0.85,1)" fill="#808080" text-anchor="start" font-size="12.4" font-weight="normal" filter="url(#cr)" >180</text>
<line x1="147.00" y1="329.50" x2="151.50" y2="329.50" stroke="#808080" stroke-width="1" />
<text transform="translate(145.20,333.90) scale(0.85,1)" fill="#808080" text-anchor="end" font-size="12.4" font-weight="normal" filter="url(#cr)" >150</text>
<line x1="147.00" y1="363.50" x2="151.50" y2="363.50" stroke="#808080" stroke-width="1" />
<text transform="translate(145.20,367.90) scale(0.85,1)" fill="#808080" text-anchor="end" font-size="12.4" font-weight="normal" filter="url(#cr)" >120</text>
<line x1="147.00" y1="398.50" x2="151.50" y2="398.50" stroke="#808080" stroke-width="1" />
<text transform="translate(145.20,402.90) scale(0.85,1)" fill="#808080" text-anchor="end" font-size="12.4" font-weight="normal" filter="url(#cr)" >O</text>
<text transform="translate(119.00,402.90) scale(0.85,1)" fill="#808080" text-anchor="start" font-size="12.4" font-weight="normal" filter="url(#cr)" >90</text>
<line x1="147.00" y1="432.50" x2="151.50" y2="432.50" stroke="#808080" stroke-width="1" />
<text transform="translate(145.20,436.90) scale(0.85,1)" fill="#808080" text-anchor="end" font-size="12.4" font-weight="normal" filter="url(#cr)" >60</text>
<line x1="147.00" y1="466.50" x2="151.50" y2="466.50" stroke="#808080" stroke-width="1" />
<text transform="translate(145.20,470.90) scale(0.85,1)" fill="#808080" text-anchor="end" font-size="12.4" font-weight="normal" filter="url(#cr)" >30</text>
<line x1="147.00" y1="500.50" x2="155.00" y2="500.50" stroke="#808080" stroke-width="1" />
<text transform="translate(145.20,504.90) scale(0.85,1)" fill="#808080" text-anchor="end" font-size="12.4" font-weight="normal" filter="url(#cr)" >N</text>
<text transform="translate(119.00,504.90) scale(0.85,1)" fill="#808080" text-anchor="start" font-size="12.4" font-weight="normal" filter="url(#cr)" >0</text>
<path d="M139,70h1v1h-1z M138,71h1v1h-1z M140,71h1v1h-1z M139,72h1v1h-1z" fill="#808080"/>
<line x1="184.00" y1="90.50" x2="192.00" y2="90.50" stroke="#808080" stroke-width="1" />
<text transform="translate(182.20,94.90) scale(0.85,1)" fill="#ffff00" text-anchor="end" font-size="12.4" font-weight="normal" filter="url(#cr)" >10.0</text>
<line x1="184.00" y1="131.50" x2="188.50" y2="131.50" stroke="#808080" stroke-width="1" />
<text transform="translate(182.20,135.90) scale(0.85,1)" fill="#ffff00" text-anchor="end" font-size="12.4" font-weight="normal" filter="url(#cr)" >9.0</text>
<line x1="184.00" y1="172.50" x2="188.50" y2="172.50" stroke="#808080" stroke-width="1" />
<text transform="translate(182.20,176.90) scale(0.85,1)" fill="#ffff00" text-anchor="end" font-size="12.4" font-weight="normal" filter="url(#cr)" >8.0</text>
<line x1="184.00" y1="213.50" x2="188.50" y2="213.50" stroke="#808080" stroke-width="1" />
<text transform="translate(182.20,217.90) scale(0.85,1)" fill="#ffff00" text-anchor="end" font-size="12.4" font-weight="normal" filter="url(#cr)" >7.0</text>
<line x1="184.00" y1="254.50" x2="188.50" y2="254.50" stroke="#808080" stroke-width="1" />
<text transform="translate(182.20,258.90) scale(0.85,1)" fill="#ffff00" text-anchor="end" font-size="12.4" font-weight="normal" filter="url(#cr)" >6.0</text>
<line x1="184.00" y1="295.50" x2="188.50" y2="295.50" stroke="#808080" stroke-width="1" />
<text transform="translate(182.20,299.90) scale(0.85,1)" fill="#ffff00" text-anchor="end" font-size="12.4" font-weight="normal" filter="url(#cr)" >5.0</text>
<line x1="184.00" y1="336.50" x2="188.50" y2="336.50" stroke="#808080" stroke-width="1" />
<text transform="translate(182.20,340.90) scale(0.85,1)" fill="#ffff00" text-anchor="end" font-size="12.4" font-weight="normal" filter="url(#cr)" >4.0</text>
<line x1="184.00" y1="377.50" x2="188.50" y2="377.50" stroke="#808080" stroke-width="1" />
<text transform="translate(182.20,381.90) scale(0.85,1)" fill="#ffff00" text-anchor="end" font-size="12.4" font-weight="normal" filter="url(#cr)" >3.0</text>
<line x1="184.00" y1="418.50" x2="188.50" y2="418.50" stroke="#808080" stroke-width="1" />
<text transform="translate(182.20,422.90) scale(0.85,1)" fill="#ffff00" text-anchor="end" font-size="12.4" font-weight="normal" filter="url(#cr)" >2.0</text>
<line x1="184.00" y1="459.50" x2="188.50" y2="459.50" stroke="#808080" stroke-width="1" />
<text transform="translate(182.20,463.90) scale(0.85,1)" fill="#ffff00" text-anchor="end" font-size="12.4" font-weight="normal" filter="url(#cr)" >1.0</text>
<line x1="184.00" y1="500.50" x2="192.00" y2="500.50" stroke="#808080" stroke-width="1" />
<text transform="translate(182.20,504.90) scale(0.85,1)" fill="#ffff00" text-anchor="end" font-size="12.4" font-weight="normal" filter="url(#cr)" >0.0</text>
<text transform="translate(167.00,79.20) scale(0.85,1)" fill="#ffff00" text-anchor="middle" font-size="12.4" font-weight="normal" filter="url(#cr)" >UV-I</text>
<line x1="654.00" y1="90.50" x2="662.00" y2="90.50" stroke="#808080" stroke-width="1" />
<text transform="translate(664.80,94.90) scale(0.85,1)" fill="#8080ff" text-anchor="start" font-size="12.4" font-weight="normal" filter="url(#cr)" >100</text>
<line x1="658.50" y1="131.50" x2="663.00" y2="131.50" stroke="#808080" stroke-width="1" />
<text transform="translate(664.80,135.90) scale(0.85,1)" fill="#8080ff" text-anchor="start" font-size="12.4" font-weight="normal" filter="url(#cr)" >90</text>
<line x1="658.50" y1="172.50" x2="663.00" y2="172.50" stroke="#808080" stroke-width="1" />
<text transform="translate(664.80,176.90) scale(0.85,1)" fill="#8080ff" text-anchor="start" font-size="12.4" font-weight="normal" filter="url(#cr)" >80</text>
<line x1="658.50" y1="213.50" x2="663.00" y2="213.50" stroke="#808080" stroke-width="1" />
<text transform="translate(664.80,217.90) scale(0.85,1)" fill="#8080ff" text-anchor="start" font-size="12.4" font-weight="normal" filter="url(#cr)" >70</text>
<line x1="658.50" y1="254.50" x2="663.00" y2="254.50" stroke="#808080" stroke-width="1" />
<text transform="translate(664.80,258.90) scale(0.85,1)" fill="#8080ff" text-anchor="start" font-size="12.4" font-weight="normal" filter="url(#cr)" >60</text>
<line x1="658.50" y1="295.50" x2="663.00" y2="295.50" stroke="#808080" stroke-width="1" />
<text transform="translate(664.80,299.90) scale(0.85,1)" fill="#8080ff" text-anchor="start" font-size="12.4" font-weight="normal" filter="url(#cr)" >50</text>
<line x1="658.50" y1="336.50" x2="663.00" y2="336.50" stroke="#808080" stroke-width="1" />
<text transform="translate(664.80,340.90) scale(0.85,1)" fill="#8080ff" text-anchor="start" font-size="12.4" font-weight="normal" filter="url(#cr)" >40</text>
<line x1="658.50" y1="377.50" x2="663.00" y2="377.50" stroke="#808080" stroke-width="1" />
<text transform="translate(664.80,381.90) scale(0.85,1)" fill="#8080ff" text-anchor="start" font-size="12.4" font-weight="normal" filter="url(#cr)" >30</text>
<line x1="658.50" y1="418.50" x2="663.00" y2="418.50" stroke="#808080" stroke-width="1" />
<text transform="translate(664.80,422.90) scale(0.85,1)" fill="#8080ff" text-anchor="start" font-size="12.4" font-weight="normal" filter="url(#cr)" >20</text>
<line x1="658.50" y1="459.50" x2="663.00" y2="459.50" stroke="#808080" stroke-width="1" />
<text transform="translate(664.80,463.90) scale(0.85,1)" fill="#8080ff" text-anchor="start" font-size="12.4" font-weight="normal" filter="url(#cr)" >10</text>
<line x1="654.00" y1="500.50" x2="662.00" y2="500.50" stroke="#808080" stroke-width="1" />
<text transform="translate(664.80,504.90) scale(0.85,1)" fill="#8080ff" text-anchor="start" font-size="12.4" font-weight="normal" filter="url(#cr)" >0</text>
<text transform="translate(662.00,79.20) scale(0.85,1)" fill="#8080ff" text-anchor="middle" font-size="12.4" font-weight="normal" filter="url(#cr)" >%</text>
<line x1="695.50" y1="90.50" x2="695.50" y2="501.00" stroke="#808080" stroke-width="1" />
<line x1="691.00" y1="90.50" x2="699.00" y2="90.50" stroke="#808080" stroke-width="1" />
<text transform="translate(701.80,94.90) scale(0.85,1)" fill="#ff0080" text-anchor="start" font-size="12.4" font-weight="normal" filter="url(#cr)" >1020</text>
<line x1="695.50" y1="131.50" x2="700.00" y2="131.50" stroke="#808080" stroke-width="1" />
<text transform="translate(701.80,135.90) scale(0.85,1)" fill="#ff0080" text-anchor="start" font-size="12.4" font-weight="normal" filter="url(#cr)" >1019</text>
<line x1="695.50" y1="172.50" x2="700.00" y2="172.50" stroke="#808080" stroke-width="1" />
<text transform="translate(701.80,176.90) scale(0.85,1)" fill="#ff0080" text-anchor="start" font-size="12.4" font-weight="normal" filter="url(#cr)" >1018</text>
<line x1="695.50" y1="213.50" x2="700.00" y2="213.50" stroke="#808080" stroke-width="1" />
<text transform="translate(701.80,217.90) scale(0.85,1)" fill="#ff0080" text-anchor="start" font-size="12.4" font-weight="normal" filter="url(#cr)" >1017</text>
<line x1="695.50" y1="254.50" x2="700.00" y2="254.50" stroke="#808080" stroke-width="1" />
<text transform="translate(701.80,258.90) scale(0.85,1)" fill="#ff0080" text-anchor="start" font-size="12.4" font-weight="normal" filter="url(#cr)" >1016</text>
<line x1="695.50" y1="295.50" x2="700.00" y2="295.50" stroke="#808080" stroke-width="1" />
<text transform="translate(701.80,299.90) scale(0.85,1)" fill="#ff0080" text-anchor="start" font-size="12.4" font-weight="normal" filter="url(#cr)" >1015</text>
<line x1="695.50" y1="336.50" x2="700.00" y2="336.50" stroke="#808080" stroke-width="1" />
<text transform="translate(701.80,340.90) scale(0.85,1)" fill="#ff0080" text-anchor="start" font-size="12.4" font-weight="normal" filter="url(#cr)" >1014</text>
<line x1="695.50" y1="377.50" x2="700.00" y2="377.50" stroke="#808080" stroke-width="1" />
<text transform="translate(701.80,381.90) scale(0.85,1)" fill="#ff0080" text-anchor="start" font-size="12.4" font-weight="normal" filter="url(#cr)" >1013</text>
<line x1="695.50" y1="418.50" x2="700.00" y2="418.50" stroke="#808080" stroke-width="1" />
<text transform="translate(701.80,422.90) scale(0.85,1)" fill="#ff0080" text-anchor="start" font-size="12.4" font-weight="normal" filter="url(#cr)" >1012</text>
<line x1="695.50" y1="459.50" x2="700.00" y2="459.50" stroke="#808080" stroke-width="1" />
<text transform="translate(701.80,463.90) scale(0.85,1)" fill="#ff0080" text-anchor="start" font-size="12.4" font-weight="normal" filter="url(#cr)" >1011</text>
<line x1="691.00" y1="500.50" x2="699.00" y2="500.50" stroke="#808080" stroke-width="1" />
<text transform="translate(701.80,504.90) scale(0.85,1)" fill="#ff0080" text-anchor="start" font-size="12.4" font-weight="normal" filter="url(#cr)" >1010</text>
<text transform="translate(705.00,79.20) scale(0.85,1)" fill="#ff0080" text-anchor="middle" font-size="12.4" font-weight="normal" filter="url(#cr)" >hPa</text>
<line x1="732.50" y1="90.50" x2="732.50" y2="501.00" stroke="#808080" stroke-width="1" />
<line x1="728.00" y1="90.50" x2="736.00" y2="90.50" stroke="#808080" stroke-width="1" />
<text transform="translate(738.80,94.90) scale(0.85,1)" fill="#000000" text-anchor="start" font-size="12.4" font-weight="normal" filter="url(#cr)" >60.0</text>
<line x1="732.50" y1="124.50" x2="737.00" y2="124.50" stroke="#808080" stroke-width="1" />
<text transform="translate(738.80,128.90) scale(0.85,1)" fill="#000000" text-anchor="start" font-size="12.4" font-weight="normal" filter="url(#cr)" >55.0</text>
<line x1="732.50" y1="158.50" x2="737.00" y2="158.50" stroke="#808080" stroke-width="1" />
<text transform="translate(738.80,162.90) scale(0.85,1)" fill="#000000" text-anchor="start" font-size="12.4" font-weight="normal" filter="url(#cr)" >50.0</text>
<line x1="732.50" y1="193.50" x2="737.00" y2="193.50" stroke="#808080" stroke-width="1" />
<text transform="translate(738.80,197.90) scale(0.85,1)" fill="#000000" text-anchor="start" font-size="12.4" font-weight="normal" filter="url(#cr)" >45.0</text>
<line x1="732.50" y1="227.50" x2="737.00" y2="227.50" stroke="#808080" stroke-width="1" />
<text transform="translate(738.80,231.90) scale(0.85,1)" fill="#000000" text-anchor="start" font-size="12.4" font-weight="normal" filter="url(#cr)" >40.0</text>
<line x1="732.50" y1="261.50" x2="737.00" y2="261.50" stroke="#808080" stroke-width="1" />
<text transform="translate(738.80,265.90) scale(0.85,1)" fill="#000000" text-anchor="start" font-size="12.4" font-weight="normal" filter="url(#cr)" >35.0</text>
<line x1="732.50" y1="295.50" x2="737.00" y2="295.50" stroke="#808080" stroke-width="1" />
<text transform="translate(738.80,299.90) scale(0.85,1)" fill="#000000" text-anchor="start" font-size="12.4" font-weight="normal" filter="url(#cr)" >30.0</text>
<line x1="732.50" y1="329.50" x2="737.00" y2="329.50" stroke="#808080" stroke-width="1" />
<text transform="translate(738.80,333.90) scale(0.85,1)" fill="#000000" text-anchor="start" font-size="12.4" font-weight="normal" filter="url(#cr)" >25.0</text>
<line x1="732.50" y1="363.50" x2="737.00" y2="363.50" stroke="#808080" stroke-width="1" />
<text transform="translate(738.80,367.90) scale(0.85,1)" fill="#000000" text-anchor="start" font-size="12.4" font-weight="normal" filter="url(#cr)" >20.0</text>
<line x1="732.50" y1="398.50" x2="737.00" y2="398.50" stroke="#808080" stroke-width="1" />
<text transform="translate(738.80,402.90) scale(0.85,1)" fill="#000000" text-anchor="start" font-size="12.4" font-weight="normal" filter="url(#cr)" >15.0</text>
<line x1="732.50" y1="432.50" x2="737.00" y2="432.50" stroke="#808080" stroke-width="1" />
<text transform="translate(738.80,436.90) scale(0.85,1)" fill="#000000" text-anchor="start" font-size="12.4" font-weight="normal" filter="url(#cr)" >10.0</text>
<line x1="732.50" y1="466.50" x2="737.00" y2="466.50" stroke="#808080" stroke-width="1" />
<text transform="translate(738.80,470.90) scale(0.85,1)" fill="#000000" text-anchor="start" font-size="12.4" font-weight="normal" filter="url(#cr)" >5.0</text>
<line x1="728.00" y1="500.50" x2="736.00" y2="500.50" stroke="#808080" stroke-width="1" />
<text transform="translate(738.80,504.90) scale(0.85,1)" fill="#000000" text-anchor="start" font-size="12.4" font-weight="normal" filter="url(#cr)" >0.0</text>
<text transform="translate(745.30,79.20) scale(0.95,1)" fill="#000000" text-anchor="middle" font-size="12.4" font-weight="normal" filter="url(#cr)" >km/h</text>
<line x1="769.50" y1="90.50" x2="769.50" y2="501.00" stroke="#808080" stroke-width="1" />
<line x1="765.00" y1="90.50" x2="773.00" y2="90.50" stroke="#808080" stroke-width="1" />
<text transform="translate(775.80,94.90) scale(0.85,1)" fill="#ff8000" text-anchor="start" font-size="12.4" font-weight="normal" filter="url(#cr)" >100</text>
<line x1="769.50" y1="131.50" x2="774.00" y2="131.50" stroke="#808080" stroke-width="1" />
<text transform="translate(775.80,135.90) scale(0.85,1)" fill="#ff8000" text-anchor="start" font-size="12.4" font-weight="normal" filter="url(#cr)" >90</text>
<line x1="769.50" y1="172.50" x2="774.00" y2="172.50" stroke="#808080" stroke-width="1" />
<text transform="translate(775.80,176.90) scale(0.85,1)" fill="#ff8000" text-anchor="start" font-size="12.4" font-weight="normal" filter="url(#cr)" >80</text>
<line x1="769.50" y1="213.50" x2="774.00" y2="213.50" stroke="#808080" stroke-width="1" />
<text transform="translate(775.80,217.90) scale(0.85,1)" fill="#ff8000" text-anchor="start" font-size="12.4" font-weight="normal" filter="url(#cr)" >70</text>
<line x1="769.50" y1="254.50" x2="774.00" y2="254.50" stroke="#808080" stroke-width="1" />
<text transform="translate(775.80,258.90) scale(0.85,1)" fill="#ff8000" text-anchor="start" font-size="12.4" font-weight="normal" filter="url(#cr)" >60</text>
<line x1="769.50" y1="295.50" x2="774.00" y2="295.50" stroke="#808080" stroke-width="1" />
<text transform="translate(775.80,299.90) scale(0.85,1)" fill="#ff8000" text-anchor="start" font-size="12.4" font-weight="normal" filter="url(#cr)" >50</text>
<line x1="769.50" y1="336.50" x2="774.00" y2="336.50" stroke="#808080" stroke-width="1" />
<text transform="translate(775.80,340.90) scale(0.85,1)" fill="#ff8000" text-anchor="start" font-size="12.4" font-weight="normal" filter="url(#cr)" >40</text>
<line x1="769.50" y1="377.50" x2="774.00" y2="377.50" stroke="#808080" stroke-width="1" />
<text transform="translate(775.80,381.90) scale(0.85,1)" fill="#ff8000" text-anchor="start" font-size="12.4" font-weight="normal" filter="url(#cr)" >30</text>
<line x1="769.50" y1="418.50" x2="774.00" y2="418.50" stroke="#808080" stroke-width="1" />
<text transform="translate(775.80,422.90) scale(0.85,1)" fill="#ff8000" text-anchor="start" font-size="12.4" font-weight="normal" filter="url(#cr)" >20</text>
<line x1="769.50" y1="459.50" x2="774.00" y2="459.50" stroke="#808080" stroke-width="1" />
<text transform="translate(775.80,463.90) scale(0.85,1)" fill="#ff8000" text-anchor="start" font-size="12.4" font-weight="normal" filter="url(#cr)" >10</text>
<line x1="765.00" y1="500.50" x2="773.00" y2="500.50" stroke="#808080" stroke-width="1" />
<text transform="translate(775.80,504.90) scale(0.85,1)" fill="#ff8000" text-anchor="start" font-size="12.4" font-weight="normal" filter="url(#cr)" >0</text>
<text transform="translate(777.50,79.20) scale(0.85,1)" fill="#ff8000" text-anchor="middle" font-size="12.4" font-weight="normal" filter="url(#cr)" >min</text>
<line x1="806.50" y1="90.50" x2="806.50" y2="501.00" stroke="#808080" stroke-width="1" />
<line x1="802.00" y1="90.50" x2="810.00" y2="90.50" stroke="#808080" stroke-width="1" />
<text transform="translate(812.80,94.90) scale(0.85,1)" fill="#ffa880" text-anchor="start" font-size="12.4" font-weight="normal" filter="url(#cr)" >1000</text>
<line x1="806.50" y1="111.50" x2="811.00" y2="111.50" stroke="#808080" stroke-width="1" />
<text transform="translate(812.80,115.90) scale(0.85,1)" fill="#ffa880" text-anchor="start" font-size="12.4" font-weight="normal" filter="url(#cr)" >950</text>
<line x1="806.50" y1="131.50" x2="811.00" y2="131.50" stroke="#808080" stroke-width="1" />
<text transform="translate(812.80,135.90) scale(0.85,1)" fill="#ffa880" text-anchor="start" font-size="12.4" font-weight="normal" filter="url(#cr)" >900</text>
<line x1="806.50" y1="152.50" x2="811.00" y2="152.50" stroke="#808080" stroke-width="1" />
<text transform="translate(812.80,156.90) scale(0.85,1)" fill="#ffa880" text-anchor="start" font-size="12.4" font-weight="normal" filter="url(#cr)" >850</text>
<line x1="806.50" y1="172.50" x2="811.00" y2="172.50" stroke="#808080" stroke-width="1" />
<text transform="translate(812.80,176.90) scale(0.85,1)" fill="#ffa880" text-anchor="start" font-size="12.4" font-weight="normal" filter="url(#cr)" >800</text>
<line x1="806.50" y1="193.50" x2="811.00" y2="193.50" stroke="#808080" stroke-width="1" />
<text transform="translate(812.80,197.90) scale(0.85,1)" fill="#ffa880" text-anchor="start" font-size="12.4" font-weight="normal" filter="url(#cr)" >750</text>
<line x1="806.50" y1="213.50" x2="811.00" y2="213.50" stroke="#808080" stroke-width="1" />
<text transform="translate(812.80,217.90) scale(0.85,1)" fill="#ffa880" text-anchor="start" font-size="12.4" font-weight="normal" filter="url(#cr)" >700</text>
<line x1="806.50" y1="234.50" x2="811.00" y2="234.50" stroke="#808080" stroke-width="1" />
<text transform="translate(812.80,238.90) scale(0.85,1)" fill="#ffa880" text-anchor="start" font-size="12.4" font-weight="normal" filter="url(#cr)" >650</text>
<line x1="806.50" y1="254.50" x2="811.00" y2="254.50" stroke="#808080" stroke-width="1" />
<text transform="translate(812.80,258.90) scale(0.85,1)" fill="#ffa880" text-anchor="start" font-size="12.4" font-weight="normal" filter="url(#cr)" >600</text>
<line x1="806.50" y1="275.50" x2="811.00" y2="275.50" stroke="#808080" stroke-width="1" />
<text transform="translate(812.80,279.90) scale(0.85,1)" fill="#ffa880" text-anchor="start" font-size="12.4" font-weight="normal" filter="url(#cr)" >550</text>
<line x1="806.50" y1="295.50" x2="811.00" y2="295.50" stroke="#808080" stroke-width="1" />
<text transform="translate(812.80,299.90) scale(0.85,1)" fill="#ffa880" text-anchor="start" font-size="12.4" font-weight="normal" filter="url(#cr)" >500</text>
<line x1="806.50" y1="316.50" x2="811.00" y2="316.50" stroke="#808080" stroke-width="1" />
<text transform="translate(812.80,320.90) scale(0.85,1)" fill="#ffa880" text-anchor="start" font-size="12.4" font-weight="normal" filter="url(#cr)" >450</text>
<line x1="806.50" y1="336.50" x2="811.00" y2="336.50" stroke="#808080" stroke-width="1" />
<text transform="translate(812.80,340.90) scale(0.85,1)" fill="#ffa880" text-anchor="start" font-size="12.4" font-weight="normal" filter="url(#cr)" >400</text>
<line x1="806.50" y1="357.50" x2="811.00" y2="357.50" stroke="#808080" stroke-width="1" />
<text transform="translate(812.80,361.90) scale(0.85,1)" fill="#ffa880" text-anchor="start" font-size="12.4" font-weight="normal" filter="url(#cr)" >350</text>
<line x1="806.50" y1="377.50" x2="811.00" y2="377.50" stroke="#808080" stroke-width="1" />
<text transform="translate(812.80,381.90) scale(0.85,1)" fill="#ffa880" text-anchor="start" font-size="12.4" font-weight="normal" filter="url(#cr)" >300</text>
<line x1="806.50" y1="398.50" x2="811.00" y2="398.50" stroke="#808080" stroke-width="1" />
<text transform="translate(812.80,402.90) scale(0.85,1)" fill="#ffa880" text-anchor="start" font-size="12.4" font-weight="normal" filter="url(#cr)" >250</text>
<line x1="806.50" y1="418.50" x2="811.00" y2="418.50" stroke="#808080" stroke-width="1" />
<text transform="translate(812.80,422.90) scale(0.85,1)" fill="#ffa880" text-anchor="start" font-size="12.4" font-weight="normal" filter="url(#cr)" >200</text>
<line x1="806.50" y1="439.50" x2="811.00" y2="439.50" stroke="#808080" stroke-width="1" />
<text transform="translate(812.80,443.90) scale(0.85,1)" fill="#ffa880" text-anchor="start" font-size="12.4" font-weight="normal" filter="url(#cr)" >150</text>
<line x1="806.50" y1="459.50" x2="811.00" y2="459.50" stroke="#808080" stroke-width="1" />
<text transform="translate(812.80,463.90) scale(0.85,1)" fill="#ffa880" text-anchor="start" font-size="12.4" font-weight="normal" filter="url(#cr)" >100</text>
<line x1="806.50" y1="480.50" x2="811.00" y2="480.50" stroke="#808080" stroke-width="1" />
<text transform="translate(812.80,484.90) scale(0.85,1)" fill="#ffa880" text-anchor="start" font-size="12.4" font-weight="normal" filter="url(#cr)" >50</text>
<line x1="802.00" y1="500.50" x2="810.00" y2="500.50" stroke="#808080" stroke-width="1" />
<text transform="translate(812.80,504.90) scale(0.85,1)" fill="#ffa880" text-anchor="start" font-size="12.4" font-weight="normal" filter="url(#cr)" >0</text>
<text transform="translate(819.50,79.20) scale(0.95,1)" fill="#ffa880" text-anchor="middle" font-size="12.4" font-weight="normal" filter="url(#cr)" >W/m<tspan dy="-3.4" font-size="8.6" font-weight="bold">2</tspan></text>
<rect x="198.5" y="33.5" width="9" height="9" fill="#008000" stroke="#000" stroke-width="1"/>
<text transform="translate(213.00,41.90) scale(0.85,1)" fill="#008000" text-anchor="start" font-size="12.4" font-weight="normal" filter="url(#cr)" >T- 2m aktiv</text>
<rect x="198.5" y="47.5" width="9" height="9" fill="#ff0080" stroke="#000" stroke-width="1"/>
<text transform="translate(213.00,55.90) scale(0.85,1)" fill="#ff0080" text-anchor="start" font-size="12.4" font-weight="normal" filter="url(#cr)" >Luftdruck</text>
<rect x="198.5" y="61.5" width="9" height="9" fill="#ff8000" stroke="#000" stroke-width="1"/>
<text transform="translate(213.00,69.90) scale(0.85,1)" fill="#ff8000" text-anchor="start" font-size="12.4" font-weight="normal" filter="url(#cr)" >Sonnenschein</text>
<rect x="198.5" y="75.5" width="9" height="9" fill="#c0c0c0" stroke="#000" stroke-width="1"/>
<text transform="translate(213.00,83.90) scale(0.85,1)" fill="#000000" text-anchor="start" font-size="12.4" font-weight="normal" filter="url(#cr)" >Windböen</text>
<rect x="293.5" y="33.5" width="9" height="9" fill="#804000" stroke="#000" stroke-width="1"/>
<text transform="translate(308.00,41.90) scale(0.85,1)" fill="#008000" text-anchor="start" font-size="12.4" font-weight="normal" filter="url(#cr)" >T +5cm*</text>
<rect x="293.5" y="47.5" width="9" height="9" fill="#0000ff" stroke="#000" stroke-width="1"/>
<text transform="translate(308.00,55.90) scale(0.85,1)" fill="#0000ff" text-anchor="start" font-size="12.4" font-weight="normal" filter="url(#cr)" >Regen</text>
<rect x="293.5" y="61.5" width="9" height="9" fill="#ffff00" stroke="#000" stroke-width="1"/>
<text transform="translate(308.00,69.90) scale(0.85,1)" fill="#ffff00" text-anchor="start" font-size="12.4" font-weight="normal" filter="url(#cr)" >UV</text>
<path d="M293.5,84.5 V75.5 H302.5 V84.5 H300.5" fill="none" stroke="#008040" stroke-width="1"/>
<text transform="translate(308.00,83.90) scale(0.85,1)" fill="#008040" text-anchor="start" font-size="12.4" font-weight="normal" filter="url(#cr)" >9.9 Monat-Ø</text>
<rect x="388.5" y="33.5" width="9" height="9" fill="#8080ff" stroke="#000" stroke-width="1"/>
<text transform="translate(403.00,41.90) scale(0.85,1)" fill="#8080ff" text-anchor="start" font-size="12.4" font-weight="normal" filter="url(#cr)" >F- 2m aktiv</text>
<rect x="388.5" y="47.5" width="9" height="9" fill="#000000" stroke="#000" stroke-width="1"/>
<text transform="translate(403.00,55.90) scale(0.85,1)" fill="#000000" text-anchor="start" font-size="12.4" font-weight="normal" filter="url(#cr)" >Wind*</text>
<rect x="388.5" y="61.5" width="9" height="9" fill="#ffa880" stroke="#000" stroke-width="1"/>
<text transform="translate(403.00,69.90) scale(0.85,1)" fill="#ffa880" text-anchor="start" font-size="12.4" font-weight="normal" filter="url(#cr)" >Solar</text>
<rect x="483.5" y="33.5" width="9" height="9" fill="#00ffff" stroke="#000" stroke-width="1"/>
<text transform="translate(498.00,41.90) scale(0.85,1)" fill="#00ffff" text-anchor="start" font-size="12.4" font-weight="normal" filter="url(#cr)" >F- Blatt</text>
<rect x="483.5" y="47.5" width="9" height="9" fill="#808080" stroke="#000" stroke-width="1"/>
<text transform="translate(498.00,55.90) scale(0.85,1)" fill="#808080" text-anchor="start" font-size="12.4" font-weight="normal" filter="url(#cr)" >Richtung</text>
<rect x="483.5" y="61.5" width="9" height="9" fill="#00ff00" stroke="#000" stroke-width="1"/>
<text transform="translate(498.00,69.90) scale(0.85,1)" fill="#008000" text-anchor="start" font-size="12.4" font-weight="normal" filter="url(#cr)" >Taupunkt</text>
<text transform="translate(424.60,20.50) scale(0.99,1)" fill="#000" text-anchor="middle" font-size="16" font-weight="normal" filter="url(#cr2)" >Freitag, 17.04.2020</text>
<text transform="translate(832.50,15.50) scale(0.855,1)" fill="#000" text-anchor="end" font-size="12.4" font-weight="normal" filter="url(#cr)" >MA - Seckenheim</text>
<rect x="285" y="496" width="2" height="12.5" fill="#808080"/>
<rect x="314" y="496" width="2" height="12.5" fill="#ffff00"/>
<rect x="468" y="501" width="2" height="7.5" fill="#808080"/>
<rect x="586" y="496" width="2" height="12.5" fill="#ffff00"/>
<text transform="translate(10.30,530.00) scale(0.85,1)" fill="#000" text-anchor="start" font-size="12.4" font-weight="normal" filter="url(#cr)" >13:53</text>
<path d="M40,529 v-3 l1.5,-2 l2,-1.2 h2.5 l2,1.2 l1.2,2 v3 z" fill="#ffff00"/>
<text transform="translate(308.20,530.00) scale(0.85,1)" fill="#000" text-anchor="end" font-size="12.4" font-weight="normal" filter="url(#cr)" >06:29</text>
<circle cx="315.1" cy="525.8" r="3.3" fill="#ffff00"/>
<path d="M315.1,520 v11.6 M309.3,525.8 h11.6 M311,521.7 l8.2,8.2 M319.2,521.7 l-8.2,8.2" stroke="#ffff80" stroke-width="1" fill="none"/>
<circle cx="315.1" cy="525.8" r="3.3" fill="#ffff00"/>
<text transform="translate(477.00,530.00) scale(0.85,1)" fill="#000" text-anchor="start" font-size="12.4" font-weight="normal" filter="url(#cr)" >14:21</text>
<path d="M466.4,520.3 h2.4 v2.5 h1.8 l-2.9,5.6 l-3.1,-5.6 h1.8 z" fill="#ffff00"/>
<path d="M469.5,527.5 h5 v2.5" stroke="#b8b8ff" stroke-width="1" fill="none" stroke-dasharray="1 1"/>
<text transform="translate(580.40,530.00) scale(0.85,1)" fill="#000" text-anchor="end" font-size="12.4" font-weight="normal" filter="url(#cr)" >20:22</text>
<rect x="584.4" y="523.6" width="5" height="4.8" rx="1" fill="none" stroke="#ffff60" stroke-width="1"/>
<rect x="1" y="539" width="844" height="80" fill="#c0c0c0"/>
<rect x="1" y="539" width="844" height="1" fill="#c8c8c8"/>
<rect x="87" y="539" width="1" height="80" fill="#ffffff"/>
<rect x="88" y="539" width="1" height="80" fill="#a09c88"/>
<rect x="204" y="539" width="1" height="80" fill="#ffffff"/>
<rect x="205" y="539" width="1" height="80" fill="#a09c88"/>
<rect x="322" y="539" width="1" height="80" fill="#ffffff"/>
<rect x="323" y="539" width="1" height="80" fill="#a09c88"/>
<rect x="440" y="539" width="1" height="80" fill="#ffffff"/>
<rect x="441" y="539" width="1" height="80" fill="#a09c88"/>
<rect x="558" y="539" width="1" height="80" fill="#ffffff"/>
<rect x="559" y="539" width="1" height="80" fill="#a09c88"/>
<rect x="676" y="539" width="1" height="80" fill="#ffffff"/>
<rect x="677" y="539" width="1" height="80" fill="#a09c88"/>
<rect x="794" y="539" width="1" height="80" fill="#ffffff"/>
<rect x="795" y="539" width="1" height="80" fill="#a09c88"/>
<rect x="844" y="539" width="1" height="80" fill="#a09c88"/>
<text transform="translate(9.50,556.80) scale(0.93,1)" fill="#000" text-anchor="start" font-size="12.4" font-weight="bold" filter="url(#cr)" word-spacing="2">Sensor</text>
<text transform="translate(9.50,572.60) scale(0.93,1)" fill="#000" text-anchor="start" font-size="12.4" font-weight="bold" filter="url(#cr)" word-spacing="2">MinWert</text>
<text transform="translate(9.50,588.30) scale(0.93,1)" fill="#000" text-anchor="start" font-size="12.4" font-weight="bold" filter="url(#cr)" word-spacing="2">MaxWert</text>
<text transform="translate(9.50,604.10) scale(0.93,1)" fill="#000" text-anchor="start" font-size="12.4" font-weight="bold" filter="url(#cr)" word-spacing="2">Durchschnitt</text>
<text transform="translate(9.50,620.00) scale(0.93,1)" fill="#000" text-anchor="start" font-size="12.4" font-weight="bold" filter="url(#cr)" word-spacing="2">17.04. 23:55</text>
<text transform="translate(95.00,556.80) scale(0.93,1)" fill="#000" text-anchor="start" font-size="12.4" font-weight="bold" filter="url(#cr)" word-spacing="2">T- 2m aktiv</text>
<text transform="translate(101.20,572.60) scale(0.85,1)" fill="#000" text-anchor="start" font-size="12.4" font-weight="normal" filter="url(#cr)" >06:55</text>
<text transform="translate(101.20,588.30) scale(0.85,1)" fill="#000" text-anchor="start" font-size="12.4" font-weight="normal" filter="url(#cr)" >16:45</text>
<text transform="translate(101.20,604.10) scale(0.85,1)" fill="#000" text-anchor="start" font-size="12.4" font-weight="normal" filter="url(#cr)" >(+ 7.40 )</text>
<text transform="translate(198.70,556.80) scale(0.93,1)" fill="#000" text-anchor="end" font-size="12.4" font-weight="bold" filter="url(#cr)" word-spacing="2">°C</text>
<text transform="translate(198.70,572.60) scale(0.85,1)" fill="#000" text-anchor="end" font-size="12.4" font-weight="normal" filter="url(#cr)" >8.5</text>
<text transform="translate(198.70,588.30) scale(0.85,1)" fill="#000" text-anchor="end" font-size="12.4" font-weight="normal" filter="url(#cr)" >27.1</text>
<text transform="translate(198.70,604.10) scale(0.85,1)" fill="#000" text-anchor="end" font-size="12.4" font-weight="normal" filter="url(#cr)" >17.30</text>
<text transform="translate(198.70,620.00) scale(0.93,1)" fill="#000" text-anchor="end" font-size="12.4" font-weight="bold" filter="url(#cr)" word-spacing="2">13.5</text>
<text transform="translate(212.50,556.80) scale(0.93,1)" fill="#000" text-anchor="start" font-size="12.4" font-weight="bold" filter="url(#cr)" word-spacing="2">F- 2m aktiv</text>
<text transform="translate(218.70,572.60) scale(0.85,1)" fill="#000" text-anchor="start" font-size="12.4" font-weight="normal" filter="url(#cr)" >16:10</text>
<text transform="translate(218.70,588.30) scale(0.85,1)" fill="#000" text-anchor="start" font-size="12.4" font-weight="normal" filter="url(#cr)" >07:20</text>
<text transform="translate(215.60,620.00) scale(0.85,1)" fill="#000" text-anchor="start" font-size="12.4" font-weight="normal" filter="url(#cr)" >9.35 g/m<tspan dy="-3.4" font-size="8.6" font-weight="bold">3</tspan></text>
<text transform="translate(316.50,556.80) scale(0.93,1)" fill="#000" text-anchor="end" font-size="12.4" font-weight="bold" filter="url(#cr)" word-spacing="2">%</text>
<text transform="translate(316.50,572.60) scale(0.85,1)" fill="#000" text-anchor="end" font-size="12.4" font-weight="normal" filter="url(#cr)" >32</text>
<text transform="translate(316.50,588.30) scale(0.85,1)" fill="#000" text-anchor="end" font-size="12.4" font-weight="normal" filter="url(#cr)" >91</text>
<text transform="translate(316.50,604.10) scale(0.85,1)" fill="#000" text-anchor="end" font-size="12.4" font-weight="normal" filter="url(#cr)" >62</text>
<text transform="translate(316.50,620.00) scale(0.93,1)" fill="#000" text-anchor="end" font-size="12.4" font-weight="bold" filter="url(#cr)" word-spacing="2">78</text>
<text transform="translate(330.50,556.80) scale(0.93,1)" fill="#000" text-anchor="start" font-size="12.4" font-weight="bold" filter="url(#cr)" word-spacing="2">Luftdruck</text>
<text transform="translate(336.70,572.60) scale(0.85,1)" fill="#000" text-anchor="start" font-size="12.4" font-weight="normal" filter="url(#cr)" >19:25</text>
<text transform="translate(336.70,588.30) scale(0.85,1)" fill="#000" text-anchor="start" font-size="12.4" font-weight="normal" filter="url(#cr)" >08:15</text>
<text transform="translate(330.50,604.10) scale(0.85,1)" fill="#000" text-anchor="start" font-size="12.4" font-weight="normal" filter="url(#cr)" >^0.9hPa/h</text>
<text transform="translate(336.70,620.00) scale(0.85,1)" fill="#000" text-anchor="start" font-size="12.4" font-weight="normal" filter="url(#cr)" >rückläufig</text>
<text transform="translate(434.50,556.80) scale(0.93,1)" fill="#000" text-anchor="end" font-size="12.4" font-weight="bold" filter="url(#cr)" word-spacing="2">hPa</text>
<text transform="translate(434.50,572.60) scale(0.85,1)" fill="#000" text-anchor="end" font-size="12.4" font-weight="normal" filter="url(#cr)" >1011.3</text>
<text transform="translate(434.50,588.30) scale(0.85,1)" fill="#000" text-anchor="end" font-size="12.4" font-weight="normal" filter="url(#cr)" >1014.9</text>
<text transform="translate(434.50,604.10) scale(0.85,1)" fill="#000" text-anchor="end" font-size="12.4" font-weight="normal" filter="url(#cr)" >1013.3</text>
<text transform="translate(434.50,620.00) scale(0.93,1)" fill="#000" text-anchor="end" font-size="12.4" font-weight="bold" filter="url(#cr)" word-spacing="2">1012.0</text>
<text transform="translate(448.50,556.80) scale(0.93,1)" fill="#000" text-anchor="start" font-size="12.4" font-weight="bold" filter="url(#cr)" word-spacing="2">Windböen</text>
<text transform="translate(448.50,572.60) scale(0.85,1)" fill="#000" text-anchor="start" font-size="12.4" font-weight="normal" filter="url(#cr)" >Ø 10 min.</text>
<text transform="translate(454.70,588.30) scale(0.85,1)" fill="#000" text-anchor="start" font-size="12.4" font-weight="normal" filter="url(#cr)" >13:35</text>
<text transform="translate(454.70,620.00) scale(0.85,1)" fill="#000" text-anchor="start" font-size="12.4" font-weight="normal" filter="url(#cr)" >0 Bft N</text>
<text transform="translate(552.50,556.80) scale(0.93,1)" fill="#000" text-anchor="end" font-size="12.4" font-weight="bold" filter="url(#cr)" word-spacing="2">km/h</text>
<text transform="translate(552.50,572.60) scale(0.85,1)" fill="#000" text-anchor="end" font-size="12.4" font-weight="normal" filter="url(#cr)" >0.0</text>
<text transform="translate(552.50,588.30) scale(0.85,1)" fill="#000" text-anchor="end" font-size="12.4" font-weight="normal" filter="url(#cr)" >S-SW 9.7</text>
<text transform="translate(552.50,604.10) scale(0.85,1)" fill="#000" text-anchor="end" font-size="12.4" font-weight="normal" filter="url(#cr)" >1.2</text>
<text transform="translate(552.50,620.00) scale(0.93,1)" fill="#000" text-anchor="end" font-size="12.4" font-weight="bold" filter="url(#cr)" word-spacing="2">0.0</text>
<text transform="translate(566.50,556.80) scale(0.93,1)" fill="#000" text-anchor="start" font-size="12.4" font-weight="bold" filter="url(#cr)" word-spacing="2">Regen</text>
<text transform="translate(566.50,572.60) scale(0.85,1)" fill="#000" text-anchor="start" font-size="12.4" font-weight="normal" filter="url(#cr)" >1:45 h</text>
<text transform="translate(572.70,588.30) scale(0.85,1)" fill="#000" text-anchor="start" font-size="12.4" font-weight="normal" filter="url(#cr)" >00:00</text>
<text transform="translate(566.50,604.10) scale(0.85,1)" fill="#000" text-anchor="start" font-size="12.4" font-weight="normal" filter="url(#cr)" >Gesamt:</text>
<text transform="translate(569.60,620.00) scale(0.85,1)" fill="#000" text-anchor="start" font-size="12.4" font-weight="normal" filter="url(#cr)" >0.0 l/m<tspan dy="-3.4" font-size="8.6" font-weight="bold">2</tspan></text>
<text transform="translate(670.50,556.80) scale(0.93,1)" fill="#000" text-anchor="end" font-size="12.4" font-weight="bold" filter="url(#cr)" word-spacing="2">l/m<tspan dy="-3.4" font-size="8.6" font-weight="bold">2</tspan></text>
<text transform="translate(670.50,588.30) scale(0.85,1)" fill="#000" text-anchor="end" font-size="12.4" font-weight="normal" filter="url(#cr)" >0.0</text>
<text transform="translate(670.50,604.10) scale(0.85,1)" fill="#000" text-anchor="end" font-size="12.4" font-weight="normal" filter="url(#cr)" >0.0</text>
<text transform="translate(670.50,620.00) scale(0.93,1)" fill="#000" text-anchor="end" font-size="12.4" font-weight="bold" filter="url(#cr)" word-spacing="2">0.0</text>
<text transform="translate(684.50,556.80) scale(0.93,1)" fill="#000" text-anchor="start" font-size="12.4" font-weight="bold" filter="url(#cr)" word-spacing="2">PMV+2:17</text>
<text transform="translate(684.50,572.60) scale(0.85,1)" fill="#000" text-anchor="start" font-size="12.4" font-weight="normal" filter="url(#cr)" >WC 13.5 °C</text>
<text transform="translate(684.50,588.30) scale(0.85,1)" fill="#000" text-anchor="start" font-size="12.4" font-weight="normal" filter="url(#cr)" >TP 9.9 °C</text>
<text transform="translate(684.50,604.10) scale(0.85,1)" fill="#000" text-anchor="start" font-size="12.4" font-weight="normal" filter="url(#cr)" >0.3hPa/3h</text>
<text transform="translate(684.50,620.00) scale(0.85,1)" fill="#000" text-anchor="start" font-size="12.4" font-weight="normal" filter="url(#cr)" >-0.1hPa/1h</text>
</svg>
</body></html>
